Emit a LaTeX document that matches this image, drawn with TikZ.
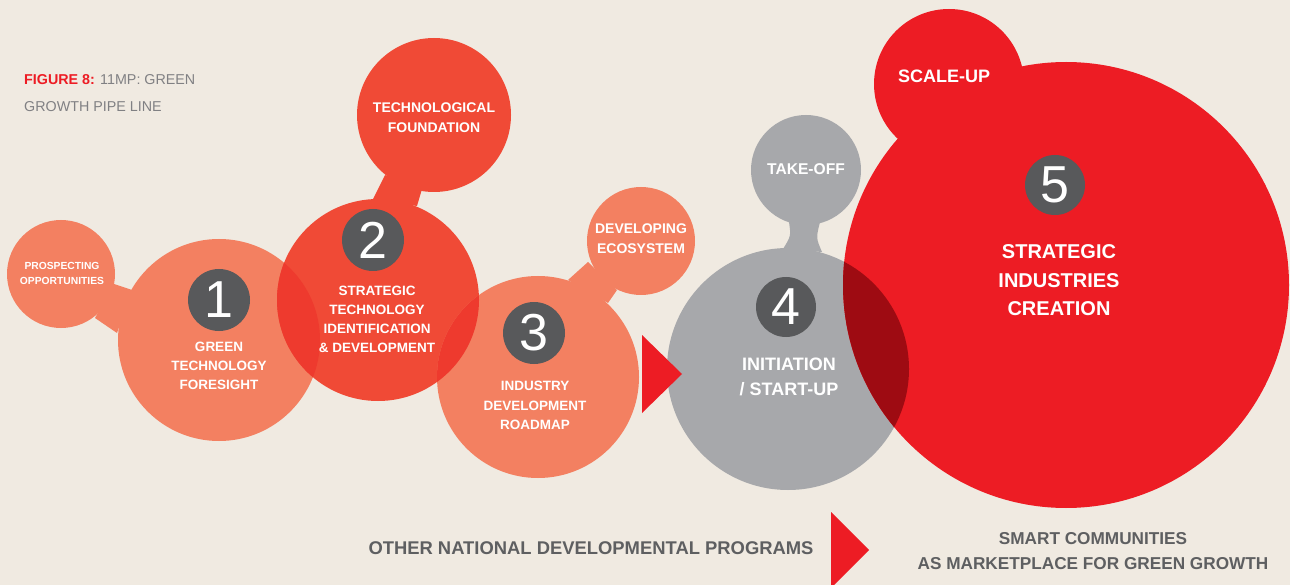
\documentclass[tikz,border=0pt]{standalone}
\usepackage{fontspec}
\setmainfont{Liberation Sans}
\definecolor{bg}{HTML}{F0EAE1}
\definecolor{salmon}{HTML}{F38061}
\definecolor{orangered}{HTML}{F04A36}
\definecolor{ovA}{HTML}{EE3A2E}
\definecolor{grey4}{HTML}{A7A8AB}
\definecolor{red5}{HTML}{ED1C24}
\definecolor{ovB}{HTML}{9E0B12}
\definecolor{badgegrey}{HTML}{58595B}
\definecolor{titlegrey}{HTML}{808083}
\definecolor{bottomgrey}{HTML}{5E5F61}
\begin{document}
\begin{tikzpicture}[x=1pt,y=-1pt,
  lbl/.style={anchor=base, inner sep=0pt, text=white},
  fs/.style={font=\bfseries\fontsize{#1}{#1}\selectfont},
  badgenode/.style={circle, fill=badgegrey, minimum size=62pt, inner sep=0pt, text=white, font=\fontsize{52}{52}\selectfont},
  bottomtext/.style={anchor=base, inner sep=0pt, text=bottomgrey},
  titletext/.style={anchor=base west, inner sep=0pt, text=titlegrey, font=\fontsize{14.3}{17}\selectfont}]
\useasboundingbox (0,0) rectangle (1290,585);
\fill[bg] (0,0) rectangle (1290,585);
\clip (0,0) rectangle (1290,585);

% centres
\coordinate (cP) at (61,274);
\coordinate (c1) at (219,340);
\coordinate (cTF) at (434,115);
\coordinate (c2) at (378,300);
\coordinate (cDE) at (641,241);
\coordinate (c3) at (538,377);
\coordinate (cTO) at (806,170);
\coordinate (c4) at (788,369);
\coordinate (cSU) at (949,84);
\coordinate (c5) at (1066,285);

% satellites and necks
\fill[salmon] (cP) circle[radius=54];
\fill[salmon] (114,284) -- (132,290) -- (117,333) -- (95,318) -- cycle;
\fill[orangered] (cTF) circle[radius=77];
\fill[orangered] (385,175) -- (373,199) -- (417,206) -- (422,189) -- cycle;
\fill[salmon] (cDE) circle[radius=54];
\fill[salmon] (588,262) -- (568,280) -- (608,303) -- (617,290) -- cycle;
\fill[grey4] (cTO) circle[radius=55];
\fill[grey4] (789,222) .. controls (791,236) .. (783,249) -- (822,252) .. controls (816,238) .. (820,222) -- cycle;
\fill[red5] (cSU) circle[radius=75];

% main circles
\fill[salmon] (c1) circle[radius=101];
\fill[orangered] (c2) circle[radius=101];
\fill[salmon] (c3) circle[radius=101];
\fill[grey4] (c4) circle[radius=121];
\fill[red5] (c5) circle[radius=223];

% overlaps
\begin{scope}
  \clip (c1) circle[radius=101];
  \fill[ovA] (c2) circle[radius=101];
\end{scope}
\begin{scope}
  \clip (c3) circle[radius=101];
  \fill[ovA] (c2) circle[radius=101];
\end{scope}
\begin{scope}
  \clip (c4) circle[radius=121];
  \fill[ovB] (c5) circle[radius=223];
\end{scope}

% arrows (triangles)
\fill[red5] (642,335) -- (682,374) -- (642,413) -- cycle;
\fill[red5] (831,512) -- (869,550) -- (831,588) -- cycle;

% badges
\node[badgenode] (b1) at (219,300) {1};
\node[badgenode] (b2) at (373,240) {2};
\node[badgenode] (b3) at (534,333) {3};
\node[badgenode, minimum size=60pt] (b4) at (786,307) {4};
\node[badgenode, minimum size=60pt] (b5) at (1055,185) {5};

% title
\node[titletext] (t1) at (24,85) {\textcolor{red5}{\bfseries FIGURE 8:} 11MP: GREEN};
\node[titletext] (t2) at (24,112) {GROWTH PIPE LINE};

% prospecting
\node[lbl, fs=10.3] (pa) at (62,270) {PROSPECTING};
\node[lbl, fs=10.3] (pb) at (62,285) {OPPORTUNITIES};
% circle 1
\node[lbl, fs=13.5] (l1a) at (219,351) {GREEN};
\node[lbl, fs=13.5] (l1b) at (219,370.5) {TECHNOLOGY};
\node[lbl, fs=13.5] (l1c) at (219,389) {FORESIGHT};
% technological foundation
\node[lbl, fs=14] (tfa) at (434,112.5) {TECHNOLOGICAL};
\node[lbl, fs=14] (tfb) at (434,132.5) {FOUNDATION};
% circle 2
\node[lbl, fs=13.5] (l2a) at (377,295.7) {STRATEGIC};
\node[lbl, fs=13.5] (l2b) at (377,314.5) {TECHNOLOGY};
\node[lbl, fs=13.5] (l2c) at (377,333.5) {IDENTIFICATION};
\node[lbl, fs=13.5] (l2d) at (377,352.8) {\& DEVELOPMENT};
% developing ecosystem
\node[lbl, fs=14] (dea) at (641,233.3) {DEVELOPING};
\node[lbl, fs=14] (deb) at (641,253.3) {ECOSYSTEM};
% circle 3
\node[lbl, fs=13.5] (l3a) at (535,390) {INDUSTRY};
\node[lbl, fs=13.5] (l3b) at (535,410.5) {DEVELOPMENT};
\node[lbl, fs=13.5] (l3c) at (535,429.5) {ROADMAP};
% take-off
\node[lbl, fs=15.6] (toa) at (806,175) {TAKE-OFF};
% circle 4
\node[lbl, fs=18] (l4a) at (789,370.7) {INITIATION};
\node[lbl, fs=18] (l4b) at (789,395) {/ START-UP};
% scale-up
\node[lbl, fs=18] (sua) at (944,82.7) {SCALE-UP};
% circle 5
\node[lbl, fs=20] (l5a) at (1059,258.3) {STRATEGIC};
\node[lbl, fs=20] (l5b) at (1059,287.3) {INDUSTRIES};
\node[lbl, fs=20] (l5c) at (1059,316) {CREATION};

% bottom
\node[bottomtext, fs=18.4] (other) at (591,554) {OTHER NATIONAL DEVELOPMENTAL PROGRAMS};
\node[bottomtext, fs=17.2] (smarta) at (1093,544.3) {SMART COMMUNITIES};
\node[bottomtext, fs=17.2] (smartb) at (1093,569.3) {AS MARKETPLACE FOR GREEN GROWTH};
\end{tikzpicture}
\end{document}
